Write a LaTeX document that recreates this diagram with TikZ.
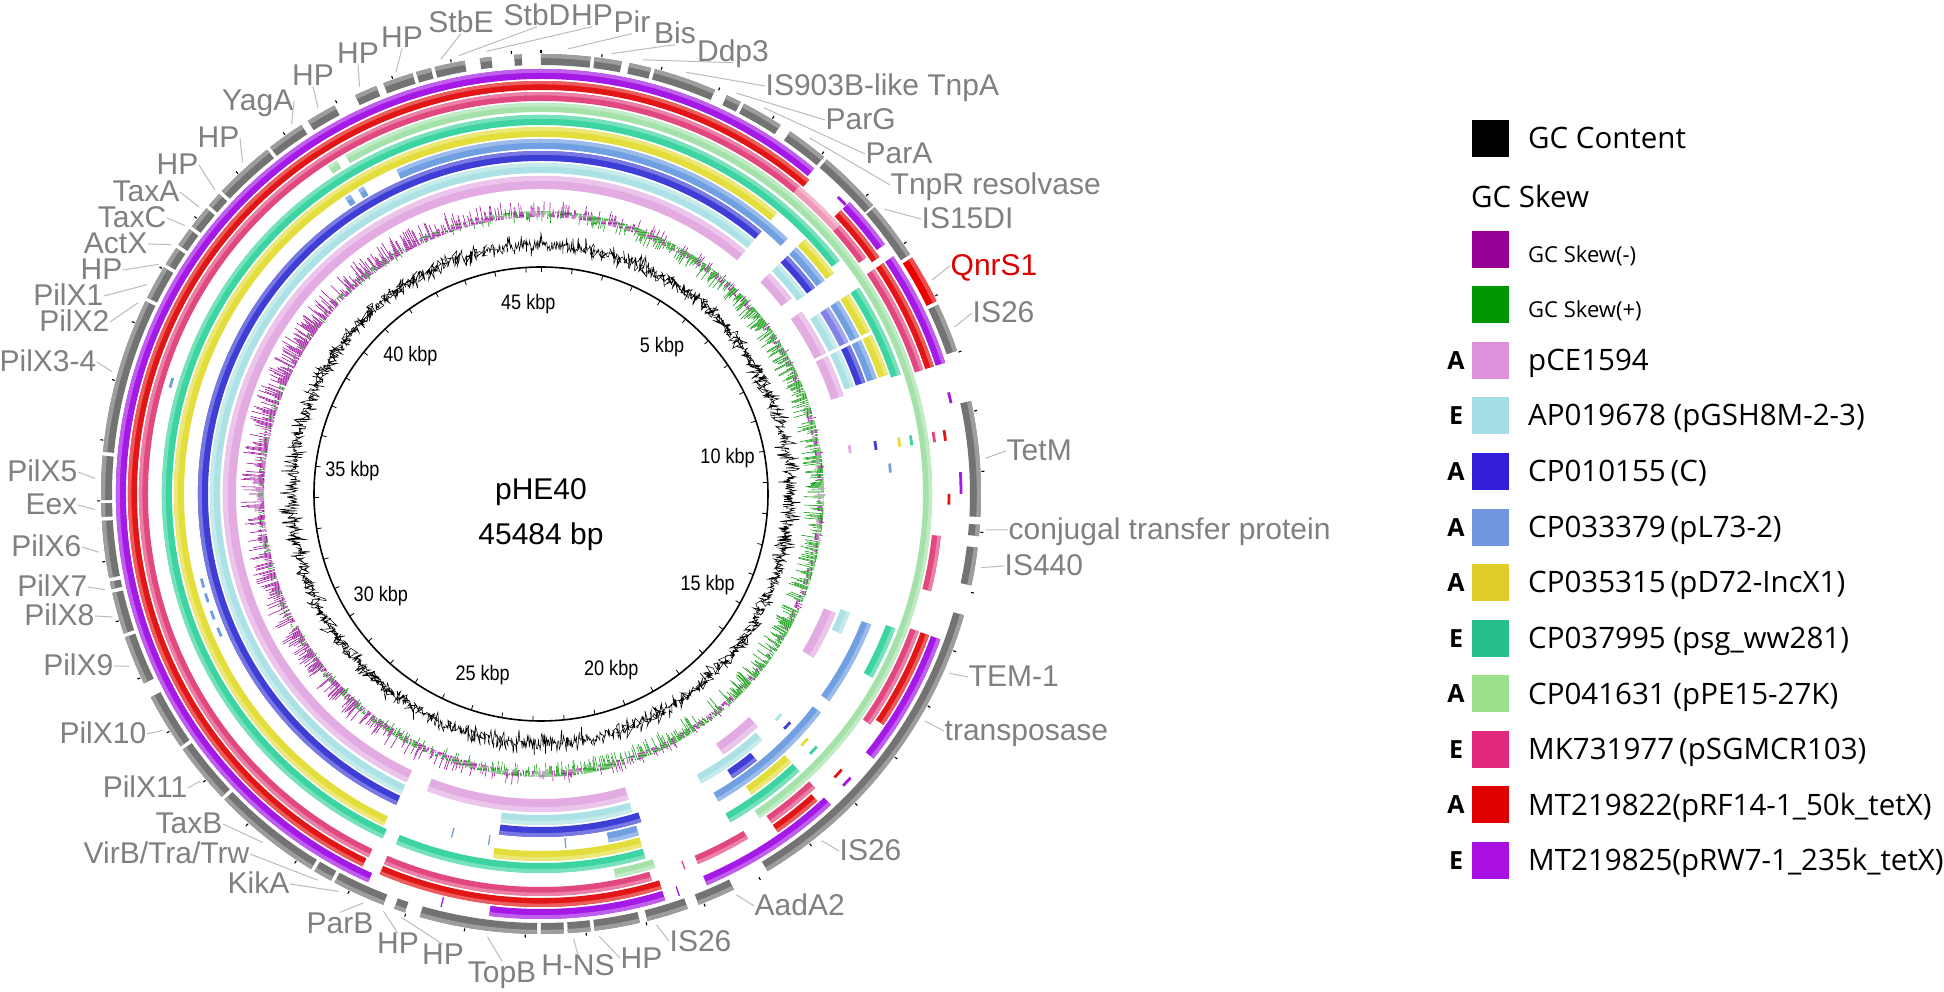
\documentclass[tikz,border=0pt]{standalone}
\usepackage{graphicx}
\usepackage{fontspec}
\setmainfont{Liberation Sans}
\newfontfamily\legfont{Open Sans}
\definecolor{labgray}{RGB}{128,128,128}
\definecolor{leadgray}{RGB}{188,188,188}
\definecolor{ringgray}{RGB}{115,115,115}
\definecolor{cPurple}{RGB}{165,25,230}
\definecolor{cRed}{RGB}{226,22,22}
\definecolor{cPink}{RGB}{226,72,128}
\definecolor{cLGreen}{RGB}{165,226,170}
\definecolor{cTeal}{RGB}{60,212,160}
\definecolor{cYellow}{RGB}{228,222,60}
\definecolor{cLBlue}{RGB}{112,160,226}
\definecolor{cBlue}{RGB}{62,62,215}
\definecolor{cLCyan}{RGB}{172,226,230}
\definecolor{cLilac}{RGB}{226,172,226}
\definecolor{qnr}{RGB}{235,0,0}
\definecolor{qnrtext}{RGB}{220,0,0}
\definecolor{kMinus}{RGB}{150,0,150}
\definecolor{kPlus}{RGB}{0,150,0}
\definecolor{kLilac}{RGB}{221,145,221}
\definecolor{kLCyan}{RGB}{165,221,230}
\definecolor{kBlue}{RGB}{50,30,215}
\definecolor{kLBlue}{RGB}{115,150,225}
\definecolor{kYellow}{RGB}{225,205,40}
\definecolor{kTeal}{RGB}{40,190,140}
\definecolor{kLGreen}{RGB}{155,225,140}
\definecolor{kPink}{RGB}{225,40,125}
\definecolor{kRed}{RGB}{225,0,0}
\definecolor{kPurple}{RGB}{170,15,225}
% annular sector: r1 r2 alpha1 alpha2 colour (alpha clockwise from top)
\newcommand\rseg[5]{\fill[#5] ({90-(#3)}:#2pt) arc[start angle={90-(#3)}, end angle={90-(#4)}, radius=#2pt] -- ({90-(#4)}:#1pt) arc[start angle={90-(#4)}, end angle={90-(#3)}, radius=#1pt] -- cycle;}
\newcommand\ringsegs[4]{\foreach \a/\b in {#4}{\rseg{#1}{#2}{\a}{\b}{#3}\pgfmathsetmacro\rmid{#1+0.62*(#2-#1)}\rseg{\rmid}{#2}{\a}{\b}{#3!70!white}}}
\newcommand\rdash[4]{\draw[#4, line width=1.3pt] ({90-(#1)}:#2pt) -- ({90-(#1)}:#3pt);}
\newcommand\tdash[3]{\pgfmathsetmacro\tdA{#2-1.4}\pgfmathsetmacro\tdB{#2+1.4}\pgfmathsetmacro\tdC{#1+1.5}\rseg{\tdA}{\tdB}{#1}{\tdC}{#3}}
% labels
\newcommand\Rlab[5]{\node[lab,anchor=west] (#1) at ({#2-541},{494-#3}) {#4};\coordinate (#1g) at ({90-(#5)}:446pt);\draw[leader] (#1.west) -- (#1g);}
\newcommand\Llab[5]{\node[lab,anchor=east] (#1) at ({#2-541},{494-#3}) {#4};\coordinate (#1g) at ({90-(#5)}:446pt);\draw[leader] (#1.east) -- (#1g);}
\newcommand\Tlab[5]{\node[lab] (#1) at ({#2-541},{494-#3}) {#4};\coordinate (#1g) at ({90-(#5)}:446pt);\draw[leader] (#1.south) -- (#1g);}
\newcommand\Blab[5]{\node[lab] (#1) at ({#2-541},{494-#3}) {#4};\coordinate (#1g) at ({90-(#5)}:446pt);\draw[leader] (#1.north) -- (#1g);}
\tikzset{
  lab/.style={font=\fontsize{30}{36}\selectfont, text=labgray, inner sep=0.5pt, text height=20pt, text depth=0pt},
  leader/.style={draw=leadgray, line width=1pt},
  ticklab/.style={font=\fontsize{21}{25}\selectfont, inner sep=0pt},
  ctext/.style={font=\fontsize{30}{36}\selectfont, inner sep=0pt},
  legsq/.style={minimum size=37pt, inner sep=0pt, draw=none},
  legtxt/.style={font=\legfont\fontsize{29.5}{34}\selectfont, inner sep=0pt, anchor=base west},
  legsmall/.style={font=\legfont\fontsize{22}{26}\selectfont, inner sep=0pt, anchor=base west},
  legletter/.style={font=\legfont\bfseries\fontsize{25}{30}\selectfont, inner sep=0pt}
}
\begin{document}
\begin{tikzpicture}[x=1pt,y=1pt]
\useasboundingbox (-541,-498) rectangle (1403,494);
\fill[white] (-541,-498) rectangle (1403,494);
% ---------- gray gene ring ----------
\ringsegs{429}{440}{ringgray}{0/6.5,7/10.6,11.6/14.5,15/23.3,25/27,27.5/33,34.5/40,40.5/49,49.3/57,64.5/71,77.8/93,94/95.5,97/102,106/149,154/159,160.5/166,167/173,173.5/176.5,177/180,180.5/196,198/199.5,201/208,208.5/211,211.5/226,226.5/234.5,235/242.5,244.5/251,251.5/257,257.5/258.5,259/266.5,267/268.8,269.2/275,275.5/296,296.5/301,301.5/304,304.5/307,307.5/310.5,311/313,313.5/321.5,322/327,328/332,335/338,339/343,343.5/345.5,346/350,352/353.5,356.5/357.5}
\ringsegs{429}{440}{qnr}{57.5/64}
% ---------- comparison rings ----------
\ringsegs{415}{425}{cPurple}{204/400,46.6/54,56/72,110/128.5,137/157,163/187}
\ringsegs{404}{413}{cRed}{205.6/400.5,46.6/55,56/72,110/124,138/145,163/203}
\ringsegs{393}{402}{cPink}{205.4/400,48/54,56/72,96/104,110/125,137/145,149/157,164/203}
\ringsegs{393}{402}{cPink!55!white}{40/48}
\ringsegs{382}{391}{cLGreen}{330/506,327/328.5,163/169}
\ringsegs{369}{379}{cTeal}{204.7/412,57/71.6,110.8/119,137/150,164/202.5}
\ringsegs{357}{367}{cYellow}{205.4/400,46/53,57/63.7,64.3/71,137/145,164/187.5}
\ringsegs{345}{355}{cLBlue}{336/404,46/53,57/63.7,64.3/71,111.6/125.7,128/150,164/169,326.5/327.5,329/330}
\ringsegs{333}{343}{cBlue}{205/400,46/53,64.3/71,141/146,163/187}
\ringsegs{333}{343}{cBlue!65!white}{57/63.7}
\ringsegs{321}{331}{cLCyan}{205/400,46/53,57/63.7,64.3/71,111/115,138/151,164/187}
\ringsegs{305}{318}{cLilac}{205/400,46/52,55/63.7,64.3/72,112/121,137/145,164/201}
% small fragments
\tdash{45}{420}{cPurple}
\tdash{81}{312}{cLilac}\tdash{81}{338}{cBlue}\tdash{81}{362}{cYellow}\tdash{81}{374}{cTeal}\tdash{81}{397}{cPink}\tdash{81}{408}{cRed}
\tdash{85}{350}{cLBlue}\tdash{76}{420}{cPurple}\tdash{87}{420}{cPurple}\tdash{88.5}{420}{cPurple}\tdash{90}{408}{cRed}
\tdash{132.5}{326}{cLCyan}\tdash{132.5}{338}{cBlue}\tdash{132.5}{362}{cYellow}\tdash{132.5}{374}{cTeal}\tdash{132.5}{408}{cRed}\tdash{132.5}{420}{cPurple}
\rdash{159}{393}{402}{cPink}\rdash{161}{415}{425}{cPurple}
\rdash{194.6}{345}{355}{cLBlue}\rdash{188.5}{345}{355}{cLBlue}\rdash{176}{345}{355}{cLBlue}\rdash{193.6}{415}{425}{cPurple}
\tdash{286}{386}{cLBlue}\tdash{246}{350}{cLBlue}\tdash{249}{350}{cLBlue}\tdash{252}{350}{cLBlue}\tdash{254.5}{350}{cLBlue}
% ---------- GC skew ----------
\pgfmathsetseed{2024}
\foreach \i in {0,...,1799}{%
  \pgfmathsetmacro\sal{\i*0.2}%
  \pgfmathsetmacro\sth{90-\sal}%
  \pgfmathsetmacro\skv{0.4*cos(\sal-100)+0.8*rand}%
  \ifdim \skv pt>0pt
    \pgfmathsetmacro\skr{283-17*\skv}%
    \draw[kPlus, line width=0.55pt] (\sth:283pt) -- (\sth:\skr pt);
  \else
    \pgfmathsetmacro\skr{277-20*\skv}%
    \draw[kMinus, line width=0.55pt] (\sth:277pt) -- (\sth:\skr pt);
  \fi
}
% ---------- GC content ----------
\draw[black, line width=0.55pt] plot[samples=2600, domain=0:360] ({90-\x}:{249+4.5*rand+9*pow(rand,3)}) -- cycle;
% ---------- inner scale circle ----------
\draw[black, line width=1.6pt] (0,0) circle[radius=227pt];
\foreach \k in {0,...,45}{\pgfmathsetmacro\sth{90-\k*7.91487}\draw[black, line width=0.8pt] (\sth:227pt) -- (\sth:222pt);\draw[black, line width=1.1pt] (\sth:441pt) -- (\sth:444pt);}
\foreach \k in {5,10,...,45}{\pgfmathsetmacro\sth{90-\k*7.91487}\node[ticklab] (tk\k) at (\sth:190pt) {\scalebox{0.86}[1]{\k\ kbp}};}
\node[ctext, anchor=base] (title) at (0,-5.75) {pHE40};
\node[ctext, anchor=base] (size) at (0,-50.75) {45484 bp};
% ---------- gene labels ----------
\Rlab{r1}{765}{86}{IS903B-like TnpA}{19}
\Rlab{r2}{825}{120}{ParG}{26}
\Rlab{r3}{865}{154}{ParA}{30}
\Rlab{r4}{890}{185}{TnpR resolvase}{37}
\Rlab{r5}{921}{219}{IS15DI}{50.3}
\Rlab{r6}{950}{266}{\textcolor{qnrtext}{QnrS1}}{61.3}
\Rlab{r7}{972}{313}{IS26}{68}
\Rlab{r8}{1006}{451}{TetM}{85.4}
\Rlab{r9}{1008}{530}{conjugal transfer protein}{94.6}
\Rlab{r10}{1004}{566}{IS440}{99.5}
\Rlab{r11}{968}{677}{TEM-1}{113.7}
\Rlab{r12}{944}{731}{transposase}{120.6}
\Rlab{r13}{839}{851}{IS26}{141}
\Rlab{r14}{754}{906}{AadA2}{154}
\Rlab{r15}{669}{941}{IS26}{165}
\Rlab{r16}{620}{958}{HP}{172.5}
\Tlab{t1}{733}{52}{Ddp3}{13.2}
\Tlab{t2}{675}{34}{Bis}{9.1}
\Tlab{t3}{632}{23}{Pir}{3.5}
\Tlab{t4}{592}{16}{HP}{353}
\Tlab{t5}{537}{16}{StbD}{349.4}
\Tlab{t6}{461}{23}{StbE}{347}
\Tlab{t7}{402}{38}{HP}{341}
\Tlab{t8}{358}{54}{HP}{336}
\Tlab{t9}{313}{76}{HP}{330}
\Llab{l1}{294}{101}{YagA}{326}
\Llab{l2}{240}{138}{HP}{318}
\Llab{l3}{199}{165}{HP}{313}
\Llab{l4}{180}{192}{TaxA}{310}
\Llab{l5}{167}{218}{TaxC}{307}
\Llab{l6}{148}{244}{ActX}{304}
\Llab{l7}{123}{270}{HP}{301}
\Llab{l8}{104}{296}{PilX1}{298}
\Llab{l9}{110}{322}{PilX2}{295.4}
\Llab{l10}{97}{362}{PilX3-4}{285.9}
\Llab{l11}{78}{472}{PilX5}{272}
\Llab{l12}{78}{505}{Eex}{268}
\Llab{l13}{82}{547}{PilX6}{262.5}
\Llab{l14}{88}{587}{PilX7}{257.6}
\Llab{l15}{95}{616}{PilX8}{254}
\Llab{l16}{114}{666}{PilX9}{247.3}
\Llab{l17}{147}{734}{PilX10}{238}
\Llab{l18}{188}{788}{PilX11}{229.9}
\Llab{l19}{223}{824}{TaxB}{218.6}
\Llab{l20}{250}{854}{VirB/Tra/Trw}{210}
\Llab{l21}{290}{884}{KikA}{207}
\Blab{b1}{340}{923}{ParB}{203.5}
\Blab{b2}{398}{944}{HP}{200.7}
\Blab{b3}{443}{955}{HP}{198.2}
\Blab{b4}{502}{972}{TopB}{186.9}
\Blab{b5}{578}{966}{H-NS}{175.8}
% ---------- legend ----------
\node[legsq, fill=black] (k0) at (949,355.5) {};
\node[legtxt] (k0t) at (987,345) {GC Content};
\node[legtxt] (kh) at (930,286.5) {GC Skew};
\node[legsq, fill=kMinus] (k1) at (949,244) {};
\node[legsmall] (k1t) at (987,231) {GC Skew(-)};
\node[legsq, fill=kPlus] (k2) at (949,189) {};
\node[legsmall] (k2t) at (987,176) {GC Skew(+)};
\node[legsq, fill=kLilac] (k3) at (949,133.5) {};
\node[legtxt] (k3t) at (987,123) {pCE1594};
\node[legletter] (k3l) at (915,133.5) {A};
\node[legsq, fill=kLCyan] (k4) at (949,78.5) {};
\node[legtxt] (k4t) at (987,68) {AP019678 (pGSH8M-2-3)};
\node[legletter] (k4l) at (915,78.5) {E};
\node[legsq, fill=kBlue] (k5) at (949,22.5) {};
\node[legtxt] (k5t) at (987,12) {CP010155\,(C)};
\node[legletter] (k5l) at (915,22.5) {A};
\node[legsq, fill=kLBlue] (k6) at (949,-33.5) {};
\node[legtxt] (k6t) at (987,-44) {CP033379\,(pL73-2)};
\node[legletter] (k6l) at (915,-33.5) {A};
\node[legsq, fill=kYellow] (k7) at (949,-88.5) {};
\node[legtxt] (k7t) at (987,-99) {CP035315\,(pD72-IncX1)};
\node[legletter] (k7l) at (915,-88.5) {A};
\node[legsq, fill=kTeal] (k8) at (949,-144.5) {};
\node[legtxt] (k8t) at (987,-155) {CP037995 (psg\_ww281)};
\node[legletter] (k8l) at (915,-144.5) {E};
\node[legsq, fill=kLGreen] (k9) at (949,-200) {};
\node[legtxt] (k9t) at (987,-210.5) {CP041631 (pPE15-27K)};
\node[legletter] (k9l) at (915,-200) {A};
\node[legsq, fill=kPink] (k10) at (949,-255.5) {};
\node[legtxt] (k10t) at (987,-266) {MK731977\,(pSGMCR103)};
\node[legletter] (k10l) at (915,-255.5) {E};
\node[legsq, fill=kRed] (k11) at (949,-311) {};
\node[legtxt] (k11t) at (987,-321.5) {MT219822(pRF14-1\_50k\_tetX)};
\node[legletter] (k11l) at (915,-311) {A};
\node[legsq, fill=kPurple] (k12) at (949,-366.5) {};
\node[legtxt] (k12t) at (987,-377) {MT219825(pRW7-1\_235k\_tetX)};
\node[legletter] (k12l) at (915,-366.5) {E};
\end{tikzpicture}
\end{document}
